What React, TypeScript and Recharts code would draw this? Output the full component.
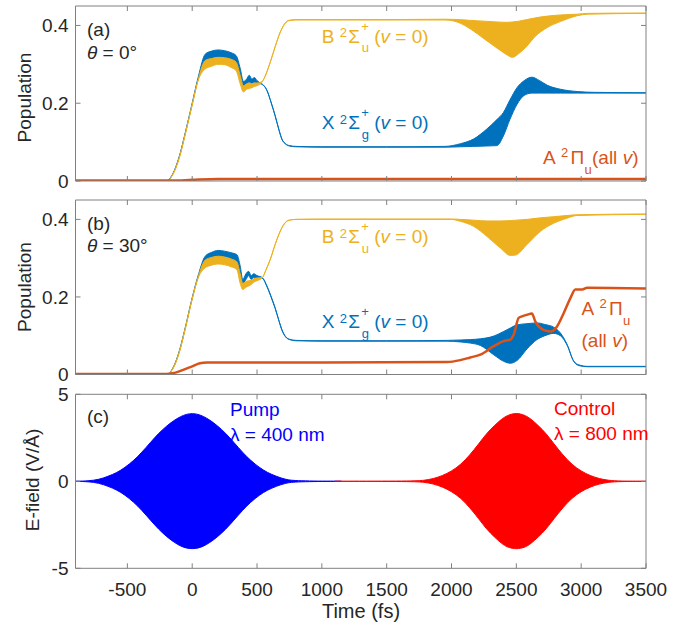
import React from 'react';
import { ComposedChart, Area, Line, XAxis, YAxis } from 'recharts';

// ---------------- data ----------------
const timeTicks = [-500, 0, 500, 1000, 1500, 2000, 2500, 3000, 3500];
const popTicks = [0, 0.2, 0.4];
const fieldTicks = [-5, 0, 5];

// Panel (a), theta = 0
const aBlueT = [-900, -200, -150, -100, -50, 0, 50, 100, 150, 200,
  250, 300, 340, 370, 395, 420, 440, 460, 480, 500,
  530, 577, 610, 640, 670, 692, 720, 750, 800, 1000,
  1500, 1950, 2070, 2170, 2270, 2350, 2400, 2450, 2505, 2560,
  2620, 2680, 2740, 2840, 2970, 3100, 3500];
const aBlueLo = [0, 0, 0.018, 0.062, 0.128, 0.198, 0.266, 0.300, 0.310, 0.314,
  0.313, 0.308, 0.298, 0.262, 0.240, 0.246, 0.254, 0.250, 0.254, 0.250,
  0.250, 0.232, 0.200, 0.167, 0.130, 0.107, 0.095, 0.090, 0.088, 0.087,
  0.087, 0.087, 0.088, 0.089, 0.090, 0.091, 0.116, 0.158, 0.197, 0.220,
  0.226, 0.226, 0.226, 0.226, 0.226, 0.226, 0.226];
const aBlueHi = [0, 0, 0.018, 0.062, 0.128, 0.200, 0.272, 0.326, 0.334, 0.337,
  0.335, 0.330, 0.322, 0.290, 0.256, 0.262, 0.272, 0.262, 0.266, 0.258,
  0.251, 0.233, 0.201, 0.168, 0.131, 0.108, 0.096, 0.091, 0.089, 0.088,
  0.088, 0.089, 0.096, 0.108, 0.133, 0.158, 0.176, 0.208, 0.240, 0.258,
  0.267, 0.258, 0.246, 0.236, 0.230, 0.228, 0.227];

const aYelT = [-900, -200, -150, -100, -50, 0, 50, 100, 150, 200,
  250, 300, 340, 370, 395, 420, 440, 460, 480, 500,
  540, 570, 602, 640, 679, 710, 743, 800, 1000, 1500,
  1950, 2050, 2150, 2250, 2350, 2420, 2470, 2520, 2580, 2640,
  2740, 2840, 2970, 3050, 3500];
const aYelLo = [0, 0, 0.016, 0.058, 0.124, 0.195, 0.262, 0.288, 0.295, 0.300,
  0.299, 0.292, 0.283, 0.250, 0.229, 0.236, 0.238, 0.240, 0.243, 0.245,
  0.255, 0.275, 0.305, 0.345, 0.382, 0.402, 0.412, 0.414, 0.414, 0.414,
  0.414, 0.408, 0.390, 0.366, 0.342, 0.326, 0.318, 0.328, 0.346, 0.370,
  0.395, 0.410, 0.425, 0.429, 0.431];
const aYelHi = [0, 0, 0.017, 0.060, 0.126, 0.197, 0.266, 0.310, 0.315, 0.318,
  0.317, 0.313, 0.305, 0.272, 0.245, 0.250, 0.252, 0.250, 0.252, 0.252,
  0.256, 0.276, 0.306, 0.346, 0.383, 0.403, 0.413, 0.415, 0.415, 0.415,
  0.416, 0.415, 0.413, 0.411, 0.409, 0.408, 0.409, 0.411, 0.415, 0.419,
  0.424, 0.427, 0.429, 0.431, 0.432];

const aOrgT = [-900, -150, 0, 200, 3500];
const aOrgV = [0.001, 0.001, 0.003, 0.005, 0.005];

// Panel (b), theta = 30
const bBlueT = [-900, -200, -150, -100, -50, 0, 50, 100, 150, 200,
  250, 300, 345, 370, 390, 415, 435, 455, 475, 500,
  540, 577, 610, 640, 670, 692, 720, 750, 800, 1000,
  1500, 1965, 2068, 2145, 2222, 2325, 2402, 2454, 2505, 2582,
  2659, 2720, 2788, 2840, 2891, 2942, 2981, 3050, 3500];
const bBlueLo = [0, 0, 0.015, 0.058, 0.124, 0.196, 0.255, 0.285, 0.292, 0.295,
  0.295, 0.290, 0.285, 0.250, 0.235, 0.245, 0.255, 0.245, 0.250, 0.248,
  0.248, 0.226, 0.198, 0.170, 0.137, 0.114, 0.097, 0.090, 0.087, 0.086,
  0.086, 0.086, 0.084, 0.081, 0.075, 0.051, 0.034, 0.029, 0.036, 0.066,
  0.090, 0.100, 0.106, 0.100, 0.076, 0.034, 0.023, 0.020, 0.020];
const bBlueHi = [0, 0, 0.016, 0.060, 0.126, 0.198, 0.260, 0.305, 0.315, 0.320,
  0.318, 0.314, 0.309, 0.280, 0.245, 0.260, 0.266, 0.255, 0.260, 0.255,
  0.250, 0.228, 0.200, 0.172, 0.138, 0.116, 0.098, 0.091, 0.088, 0.087,
  0.087, 0.088, 0.089, 0.090, 0.092, 0.099, 0.111, 0.120, 0.128, 0.131,
  0.133, 0.129, 0.122, 0.107, 0.078, 0.035, 0.025, 0.021, 0.021];

const bYelT = [-900, -200, -150, -100, -50, 0, 50, 100, 150, 200,
  250, 300, 345, 370, 390, 415, 435, 455, 475, 500,
  540, 570, 602, 640, 679, 710, 743, 800, 1000, 1500,
  2000, 2068, 2171, 2274, 2377, 2454, 2494, 2582, 2685, 2788,
  2891, 2968, 3500];
const bYelLo = [0, 0, 0.014, 0.056, 0.122, 0.194, 0.252, 0.275, 0.282, 0.285,
  0.283, 0.278, 0.270, 0.235, 0.219, 0.225, 0.228, 0.232, 0.238, 0.242,
  0.249, 0.270, 0.296, 0.335, 0.369, 0.388, 0.397, 0.400, 0.400, 0.400,
  0.400, 0.395, 0.382, 0.356, 0.326, 0.307, 0.308, 0.335, 0.369, 0.390,
  0.403, 0.410, 0.413];
const bYelHi = [0, 0, 0.015, 0.058, 0.124, 0.196, 0.256, 0.295, 0.302, 0.305,
  0.303, 0.298, 0.290, 0.260, 0.235, 0.240, 0.242, 0.243, 0.247, 0.249,
  0.250, 0.271, 0.297, 0.336, 0.370, 0.389, 0.398, 0.400, 0.401, 0.401,
  0.401, 0.400, 0.398, 0.396, 0.396, 0.397, 0.398, 0.400, 0.404, 0.407,
  0.410, 0.412, 0.414];

const bOrgT = [-900, -200, -150, -100, -40, 0, 60, 113, 200, 1000,
  1965, 2068, 2145, 2222, 2325, 2402, 2454, 2480, 2518, 2544,
  2582, 2620, 2646, 2672, 2711, 2762, 2814, 2865, 2917, 2955,
  3007, 3046, 3500];
const bOrgV = [0.001, 0.001, 0.003, 0.008, 0.016, 0.021, 0.029, 0.031, 0.031, 0.031,
  0.032, 0.037, 0.044, 0.051, 0.073, 0.086, 0.090, 0.103, 0.146, 0.150,
  0.154, 0.157, 0.137, 0.124, 0.115, 0.111, 0.124, 0.158, 0.197, 0.219,
  0.219, 0.224, 0.222];

// Panel (c), E-field envelopes
const pumpT = [-900, -800, -720, -650, -580, -520, -450, -390, -320, -260,
  -195, -130, -90, -45, 0, 45, 90, 130, 195, 260,
  320, 390, 450, 520, 580, 650, 720, 800, 1150];
const pumpHi = [0, 0.02, 0.1, 0.28, 0.5, 0.78, 1.2, 1.65, 2.25, 2.75,
  3.2, 3.55, 3.72, 3.86, 3.9, 3.86, 3.72, 3.55, 3.2, 2.75,
  2.25, 1.65, 1.2, 0.78, 0.5, 0.28, 0.1, 0.02, 0];
const pumpLo = [0, -0.02, -0.1, -0.28, -0.5, -0.78, -1.2, -1.65, -2.25, -2.75,
  -3.2, -3.55, -3.72, -3.85, -3.88, -3.85, -3.72, -3.55, -3.2, -2.75,
  -2.25, -1.65, -1.2, -0.78, -0.5, -0.28, -0.1, -0.02, 0];

const ctrlT = [1100, 1700, 1790, 1860, 1930, 2000, 2070, 2140, 2210, 2270,
  2330, 2390, 2430, 2470, 2500, 2530, 2570, 2610, 2670, 2730,
  2790, 2860, 2930, 3000, 3070, 3140, 3210, 3300, 3500];
const ctrlHi = [0, 0.01, 0.05, 0.15, 0.32, 0.58, 0.95, 1.5, 2.15, 2.75,
  3.2, 3.6, 3.78, 3.88, 3.9, 3.88, 3.78, 3.6, 3.2, 2.75,
  2.15, 1.5, 0.95, 0.58, 0.32, 0.15, 0.05, 0.01, 0];
const ctrlLo = [0, -0.01, -0.05, -0.15, -0.32, -0.58, -0.95, -1.5, -2.15, -2.75,
  -3.2, -3.6, -3.78, -3.86, -3.88, -3.86, -3.78, -3.6, -3.2, -2.75,
  -2.15, -1.5, -0.95, -0.58, -0.32, -0.15, -0.05, -0.01, 0];

// ---------------- helpers ----------------
const toBand = (t: number[], lo: number[], hi: number[]) =>
  t.map((x, i) => ({ t: x, v: [lo[i], hi[i]] }));
const toLine = (t: number[], v: number[]) => t.map((x, i) => ({ t: x, v: v[i] }));

const FONT = '"Liberation Sans", Arial, Helvetica, sans-serif';
const AXIS = '#808080';
const TXT = '#262626';
const BLUE = '#0072BD';
const YEL = '#EDB120';
const ORG = '#D95319';
const PUMP = '#0000FF';
const CTRL = '#FF0000';

const tickStyle = { fill: TXT, fontSize: 19, fontFamily: FONT };
const blank = () => '';
const fmtY = (v: number) => String(v);

function bandSeries(data: any[], color: string, key: string, curve: any = 'monotone') {
  return (
    <Area key={key} xAxisId="b" yAxisId="l" data={data} dataKey="v" type={curve}
      stroke={color} strokeWidth={1} fill={color} fillOpacity={1}
      dot={false} activeDot={false} isAnimationActive={false} />
  );
}
function lineSeries(data: any[], color: string, key: string, w: number) {
  return (
    <Line key={key} xAxisId="b" yAxisId="l" data={data} dataKey="v" type="monotone"
      stroke={color} strokeWidth={w} dot={false} activeDot={false} isAnimationActive={false} />
  );
}

function Panel(props: {
  top: number; height: number; mTop: number; mBottom: number;
  yDomain: [number, number]; yTicks: number[]; xLabels: boolean; series: React.ReactNode[];
}) {
  const { top, height, mTop, mBottom, yDomain, yTicks, xLabels, series } = props;
  return (
    <div style={{ position: 'absolute', left: 0, top, width: 688, height }}>
      <ComposedChart width={688} height={height} margin={{ top: mTop, right: 41, bottom: mBottom, left: 0 }}>
        <XAxis xAxisId="b" type="number" dataKey="t" domain={[-900, 3500]} ticks={timeTicks}
          allowDataOverflow orientation="bottom" height={xLabels ? 40 : 1}
          tickSize={-5} tickMargin={19} stroke={AXIS} tick={tickStyle}
          tickFormatter={xLabels ? fmtY : blank} interval={0} />
        <XAxis xAxisId="t" type="number" dataKey="t" domain={[-900, 3500]} ticks={timeTicks}
          allowDataOverflow orientation="top" height={1}
          tickSize={-5} stroke={AXIS} tick={tickStyle} tickFormatter={blank} interval={0} />
        <YAxis yAxisId="l" type="number" domain={yDomain} ticks={yTicks} allowDataOverflow
          width={75.5} tickSize={-5} tickMargin={12} stroke={AXIS} tick={tickStyle}
          tickFormatter={fmtY} interval={0} />
        <YAxis yAxisId="r" orientation="right" type="number" domain={yDomain} ticks={yTicks}
          allowDataOverflow width={1} tickSize={-5} stroke={AXIS} tick={tickStyle}
          tickFormatter={blank} interval={0} />
        {series}
      </ComposedChart>
    </div>
  );
}

function StateLabel(props: { x: number; y: number; letter: string; sub: string; fill: string }) {
  const { x, y, letter, sub, fill } = props;
  return (
    <g fill={fill} fontFamily={FONT}>
      <text x={x} y={y} fontSize={19}>{letter}</text>
      <text x={x + 18} y={y - 5.5} fontSize={13}>2</text>
      <text x={x + 26.5} y={y} fontSize={19}>Σ</text>
      <text x={x + 39.5} y={y - 12} fontSize={13}>+</text>
      <text x={x + 40} y={y + 9.5} fontSize={13}>{sub}</text>
      <text x={x + 52.5} y={y} fontSize={19}>(<tspan fontStyle="italic">v</tspan> = 0)</text>
    </g>
  );
}

function ALabel(props: { x: number; y: number; full: boolean }) {
  const { x, y, full } = props;
  return (
    <g fill={ORG} fontFamily={FONT}>
      <text x={x} y={y} fontSize={19}>A</text>
      <text x={x + 18} y={y - 7} fontSize={13}>2</text>
      <text x={x + 27.5} y={y} fontSize={19}>Π</text>
      <text x={x + 41.5} y={y + 9.5} fontSize={13}>u</text>
      {full ? (
        <text x={x + 49} y={y} fontSize={19}>(all <tspan fontStyle="italic">v</tspan>)</text>
      ) : (
        <text x={x} y={y + 32} fontSize={19}>(all <tspan fontStyle="italic">v</tspan>)</text>
      )}
    </g>
  );
}

export default function App() {
  const seriesA = [
    bandSeries(toBand(aBlueT, aBlueLo, aBlueHi), BLUE, 'ab'),
    bandSeries(toBand(aYelT, aYelLo, aYelHi), YEL, 'ay'),
    lineSeries(toLine(aOrgT, aOrgV), ORG, 'ao', 2.5),
  ];
  const seriesB = [
    bandSeries(toBand(bBlueT, bBlueLo, bBlueHi), BLUE, 'bb'),
    bandSeries(toBand(bYelT, bYelLo, bYelHi), YEL, 'by'),
    lineSeries(toLine(bOrgT, bOrgV), ORG, 'bo', 2.5),
  ];
  const seriesC = [
    bandSeries(toBand(pumpT, pumpLo, pumpHi), PUMP, 'cp', 'basis'),
    bandSeries(toBand(ctrlT, ctrlLo, ctrlHi), CTRL, 'cc', 'basis'),
  ];
  return (
    <div style={{ position: 'absolute', left: 0, top: 0, width: 688, height: 631, background: '#fff' }}>
      <Panel top={0} height={200} mTop={5} mBottom={18} yDomain={[0, 0.45]} yTicks={popTicks} xLabels={false} series={seriesA} />
      <Panel top={190} height={200} mTop={9} mBottom={14.5} yDomain={[0, 0.45]} yTicks={popTicks} xLabels={false} series={seriesB} />
      <Panel top={380} height={251} mTop={13.3} mBottom={22.7} yDomain={[-5, 5]} yTicks={fieldTicks} xLabels={true} series={seriesC} />
      <svg width={688} height={631} style={{ position: 'absolute', left: 0, top: 0, pointerEvents: 'none' }}>
        {/* axis titles */}
        <text transform="translate(30.5,97.5) rotate(-90)" textAnchor="middle" fontSize={19} fontFamily={FONT} fill={TXT}>Population</text>
        <text transform="translate(30.5,287) rotate(-90)" textAnchor="middle" fontSize={19} fontFamily={FONT} fill={TXT}>Population</text>
        <text transform="translate(39,480) rotate(-90)" textAnchor="middle" fontSize={19} fontFamily={FONT} fill={TXT}>E-field (V/Å)</text>
        <text x={361} y={618} textAnchor="middle" fontSize={20} fontFamily={FONT} fill={TXT}>Time (fs)</text>

        {/* panel tags */}
        <text x={87} y={35.5} fontSize={19} fontFamily={FONT} fill={TXT}>(a)</text>
        <text x={87} y={59} fontSize={19} fontFamily={FONT} fill={TXT}><tspan fontStyle="italic">θ</tspan> = 0°</text>
        <text x={87} y={229.5} fontSize={19} fontFamily={FONT} fill={TXT}>(b)</text>
        <text x={87} y={251.5} fontSize={19} fontFamily={FONT} fill={TXT}><tspan fontStyle="italic">θ</tspan> = 30°</text>
        <text x={87} y={423} fontSize={19} fontFamily={FONT} fill={TXT}>(c)</text>

        {/* state labels */}
        <StateLabel x={321.7} y={42.7} letter="B" sub="u" fill={YEL} />
        <StateLabel x={321.7} y={129.3} letter="X" sub="g" fill={BLUE} />
        <ALabel x={543} y={164} full={true} />
        <StateLabel x={321.7} y={243} letter="B" sub="u" fill={YEL} />
        <StateLabel x={321.7} y={328} letter="X" sub="g" fill={BLUE} />
        <ALabel x={581.5} y={315} full={false} />

        {/* pulse labels */}
        <text x={230} y={416} fontSize={19} fontFamily={FONT} fill={PUMP}>Pump</text>
        <text x={230} y={440.5} fontSize={19} fontFamily={FONT} fill={PUMP}>λ = 400 nm</text>
        <text x={554} y={415} fontSize={19} fontFamily={FONT} fill={CTRL}>Control</text>
        <text x={554} y={440} fontSize={19} fontFamily={FONT} fill={CTRL}>λ = 800 nm</text>
      </svg>
    </div>
  );
}
